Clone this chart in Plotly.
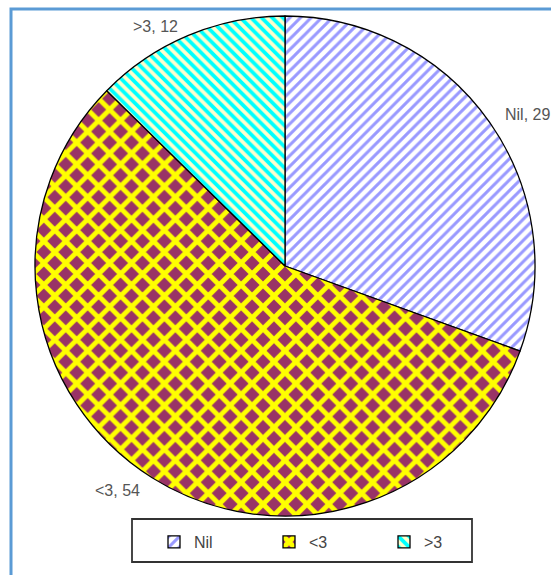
import plotly.graph_objects as go

# Data
categories = ["Nil", "<3", ">3"]
counts = [29, 54, 12]

# Slice styling
bg_colors = ["#ffffff", "#993366", "#ffffcc"]
fg_colors = ["#9999ff", "#ffff00", "#00ffff"]
shapes_pat = ["/", "x", "\\"]

W, H = 551, 575


def px(x):
    return x / W


def py(y):
    # convert from top-based pixel to paper fraction
    return (H - y) / H


cx, cy, r = 285, 266, 250

fig = go.Figure(
    go.Pie(
        labels=categories,
        values=counts,
        sort=False,
        direction="clockwise",
        rotation=0,
        textinfo="none",
        hoverinfo="label+value+percent",
        marker=dict(
            colors=bg_colors,
            line=dict(color="#000000", width=1.3),
            pattern=dict(
                shape=shapes_pat,
                fgcolor=fg_colors,
                bgcolor=bg_colors,
                size=[7.5, 15.5, 7.5],
                solidity=[0.4, 0.53, 0.5],
                fillmode="replace",
            ),
        ),
        domain=dict(x=[px(cx - r), px(cx + r)], y=[py(cy + r), py(cy - r)]),
    )
)

# Slice labels "<category>, <count>"
label_pos = {"Nil": (527, 114), "<3": (117, 490), ">3": (155, 26)}
annotations = []
for c, v in zip(categories, counts):
    x, y = label_pos[c]
    annotations.append(
        dict(
            x=px(x), y=py(y), xref="paper", yref="paper",
            text=f"{c}, {v}", showarrow=False,
            xanchor="center", yanchor="middle",
            font=dict(family="Arial, Liberation Sans", size=16, color="#555555"),
        )
    )

fig.update_layout(
    width=W,
    height=H,
    margin=dict(l=0, r=0, t=0, b=0),
    paper_bgcolor="#ffffff",
    plot_bgcolor="#ffffff",
    annotations=annotations,
    showlegend=True,
    legend=dict(
        orientation="h",
        x=px(154), xanchor="left",
        y=py(542), yanchor="middle",
        entrywidth=70, entrywidthmode="pixels",
        bgcolor="rgba(0,0,0,0)",
        borderwidth=0,
        font=dict(family="Arial, Liberation Sans", size=16, color="#444444"),
    ),
    shapes=[
        # outer blue frame
        dict(type="rect", xref="paper", yref="paper",
             x0=px(11), x1=px(W + 20), y0=py(H + 20), y1=py(9),
             line=dict(color="#5b9bd5", width=3), fillcolor="rgba(0,0,0,0)"),
        # legend box
        dict(type="rect", xref="paper", yref="paper",
             x0=px(132), x1=px(472), y0=py(562), y1=py(519),
             line=dict(color="#333333", width=1.8), fillcolor="rgba(0,0,0,0)"),
    ],
)

fig.write_html("out.html")
